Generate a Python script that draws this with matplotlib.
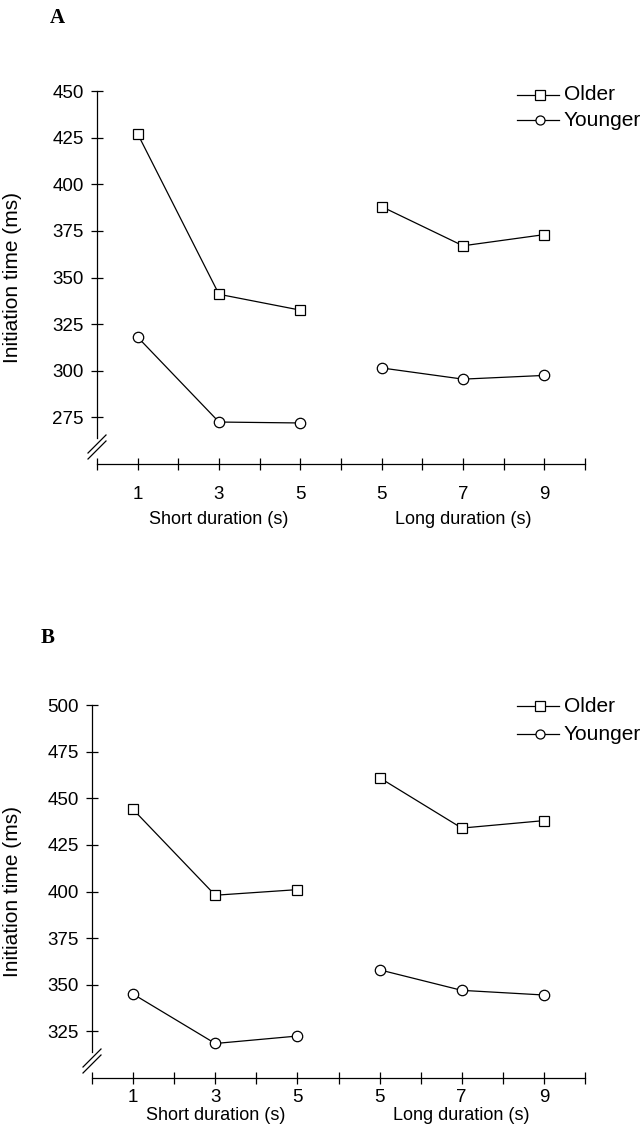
import matplotlib
matplotlib.use("Agg")
import matplotlib.pyplot as plt
from matplotlib.lines import Line2D

plt.rcParams['font.family'] = ['Liberation Sans', 'DejaVu Sans']

# ---------------- data ----------------
short_durations = [1, 3, 5]
long_durations = [5, 7, 9]
tick_labels = ["1", "3", "5", "5", "7", "9"]

A_older_short = [427, 341, 332.5]
A_older_long = [388, 367, 373]
A_younger_short = [318, 272.5, 272]
A_younger_long = [301.5, 295.5, 297.5]

B_older_short = [444, 398, 401]
B_older_long = [461, 434, 438]
B_younger_short = [345, 318.5, 322.5]
B_younger_long = [358, 347, 344.5]

A_ylim = (250, 450)
A_yticks = [275, 300, 325, 350, 375, 400, 425, 450]
B_ylim = (300, 500)
B_yticks = [325, 350, 375, 400, 425, 450, 475, 500]

W, H = 643, 1142
fig = plt.figure(figsize=(W / 100, H / 100), dpi=100)


def fx(px):
    return px / W


def fy(py):
    return 1 - py / H


def panel(left_px, top_px, bottom_px, right_px, ylim, yticks,
          older_s, older_l, young_s, young_l, letter, letter_xy,
          leg_y, lab_pad, cap_y):
    ax = fig.add_axes([fx(left_px), fy(bottom_px), fx(right_px - left_px),
                       (bottom_px - top_px) / H])
    ax.set_xlim(0, 12)
    ax.set_ylim(*ylim)
    for s in ("top", "right"):
        ax.spines[s].set_visible(False)
    # x positions on the continuous axis: short at d, long at d + 2
    xs = list(short_durations)
    xl = [d + 2 for d in long_durations]
    mk = dict(color="black", lw=0.9, markerfacecolor="white",
              markeredgecolor="black", markeredgewidth=0.9, clip_on=False,
              zorder=3)
    ax.plot(xs, older_s, marker="s", markersize=7.3, **mk)
    ax.plot(xl, older_l, marker="s", markersize=7.3, **mk)
    ax.plot(xs, young_s, marker="o", markersize=7.5, **mk)
    ax.plot(xl, young_l, marker="o", markersize=7.5, **mk)

    ax.set_xticks(range(0, 13))
    ax.set_xticklabels([""] + [tick_labels[i // 2] if i % 2 == 0 else ""
                               for i in range(12)])
    ax.tick_params(axis="x", direction="inout", length=8, width=0.9,
                   labelsize=13.5, pad=lab_pad)
    ax.set_yticks(yticks)
    ax.tick_params(axis="y", direction="inout", length=9, width=0.9,
                   labelsize=13.5, pad=5)
    ax.spines["left"].set_linewidth(0.9)
    ax.spines["bottom"].set_linewidth(0.9)
    ax.spines["left"].set_bounds(ylim[0] + 14, ylim[1])
    ax.set_ylabel("Initiation time (ms)", fontsize=15)
    ax.yaxis.set_label_coords(-(left_px - 22) / (right_px - left_px), 0.5)

    # axis break marks
    hpx = bottom_px - top_px
    wpx = right_px - left_px
    for off in (-3, 3):
        cy = 17 + off
        ax.plot([-9 / wpx, 9 / wpx], [(cy - 9) / hpx, (cy + 9) / hpx],
                transform=ax.transAxes, color="black", lw=0.9,
                clip_on=False)

    # duration captions
    cap = -(cap_y - bottom_px) / hpx
    ax.text(3, cap, "Short duration (s)", transform=ax.get_xaxis_transform(),
            ha="center", va="center", fontsize=13)
    ax.text(9, cap, "Long duration (s)",
            transform=ax.get_xaxis_transform(), ha="center", va="center",
            fontsize=13)

    # panel letter
    fig.text(fx(letter_xy[0]), fy(letter_xy[1]), letter,
             family=["Liberation Serif", "DejaVu Serif"], weight="bold",
             fontsize=15, ha="center", va="center")

    # legend (drawn manually)
    for (mkr, name, yy) in (("s", "Older", leg_y[0]),
                            ("o", "Younger", leg_y[1])):
        fig.add_artist(Line2D([fx(517), fx(559)], [fy(yy), fy(yy)],
                              color="black", lw=0.9))
        fig.add_artist(Line2D([fx(540)], [fy(yy)], marker=mkr,
                              markersize=6.5, markerfacecolor="white",
                              markeredgecolor="black", markeredgewidth=0.9,
                              linestyle="none"))
        fig.text(fx(564), fy(yy), name, fontsize=15, ha="left",
                 va="center")
    return ax


panel(97, 91, 464, 585, A_ylim, A_yticks, A_older_short, A_older_long,
      A_younger_short, A_younger_long, "A", (57, 18), (95, 120), 12, 519)
panel(92, 705, 1078, 585, B_ylim, B_yticks, B_older_short, B_older_long,
      B_younger_short, B_younger_long, "B", (48, 638), (706, 734), 4, 1116)

fig.savefig("out.png", dpi=100, facecolor="white")
